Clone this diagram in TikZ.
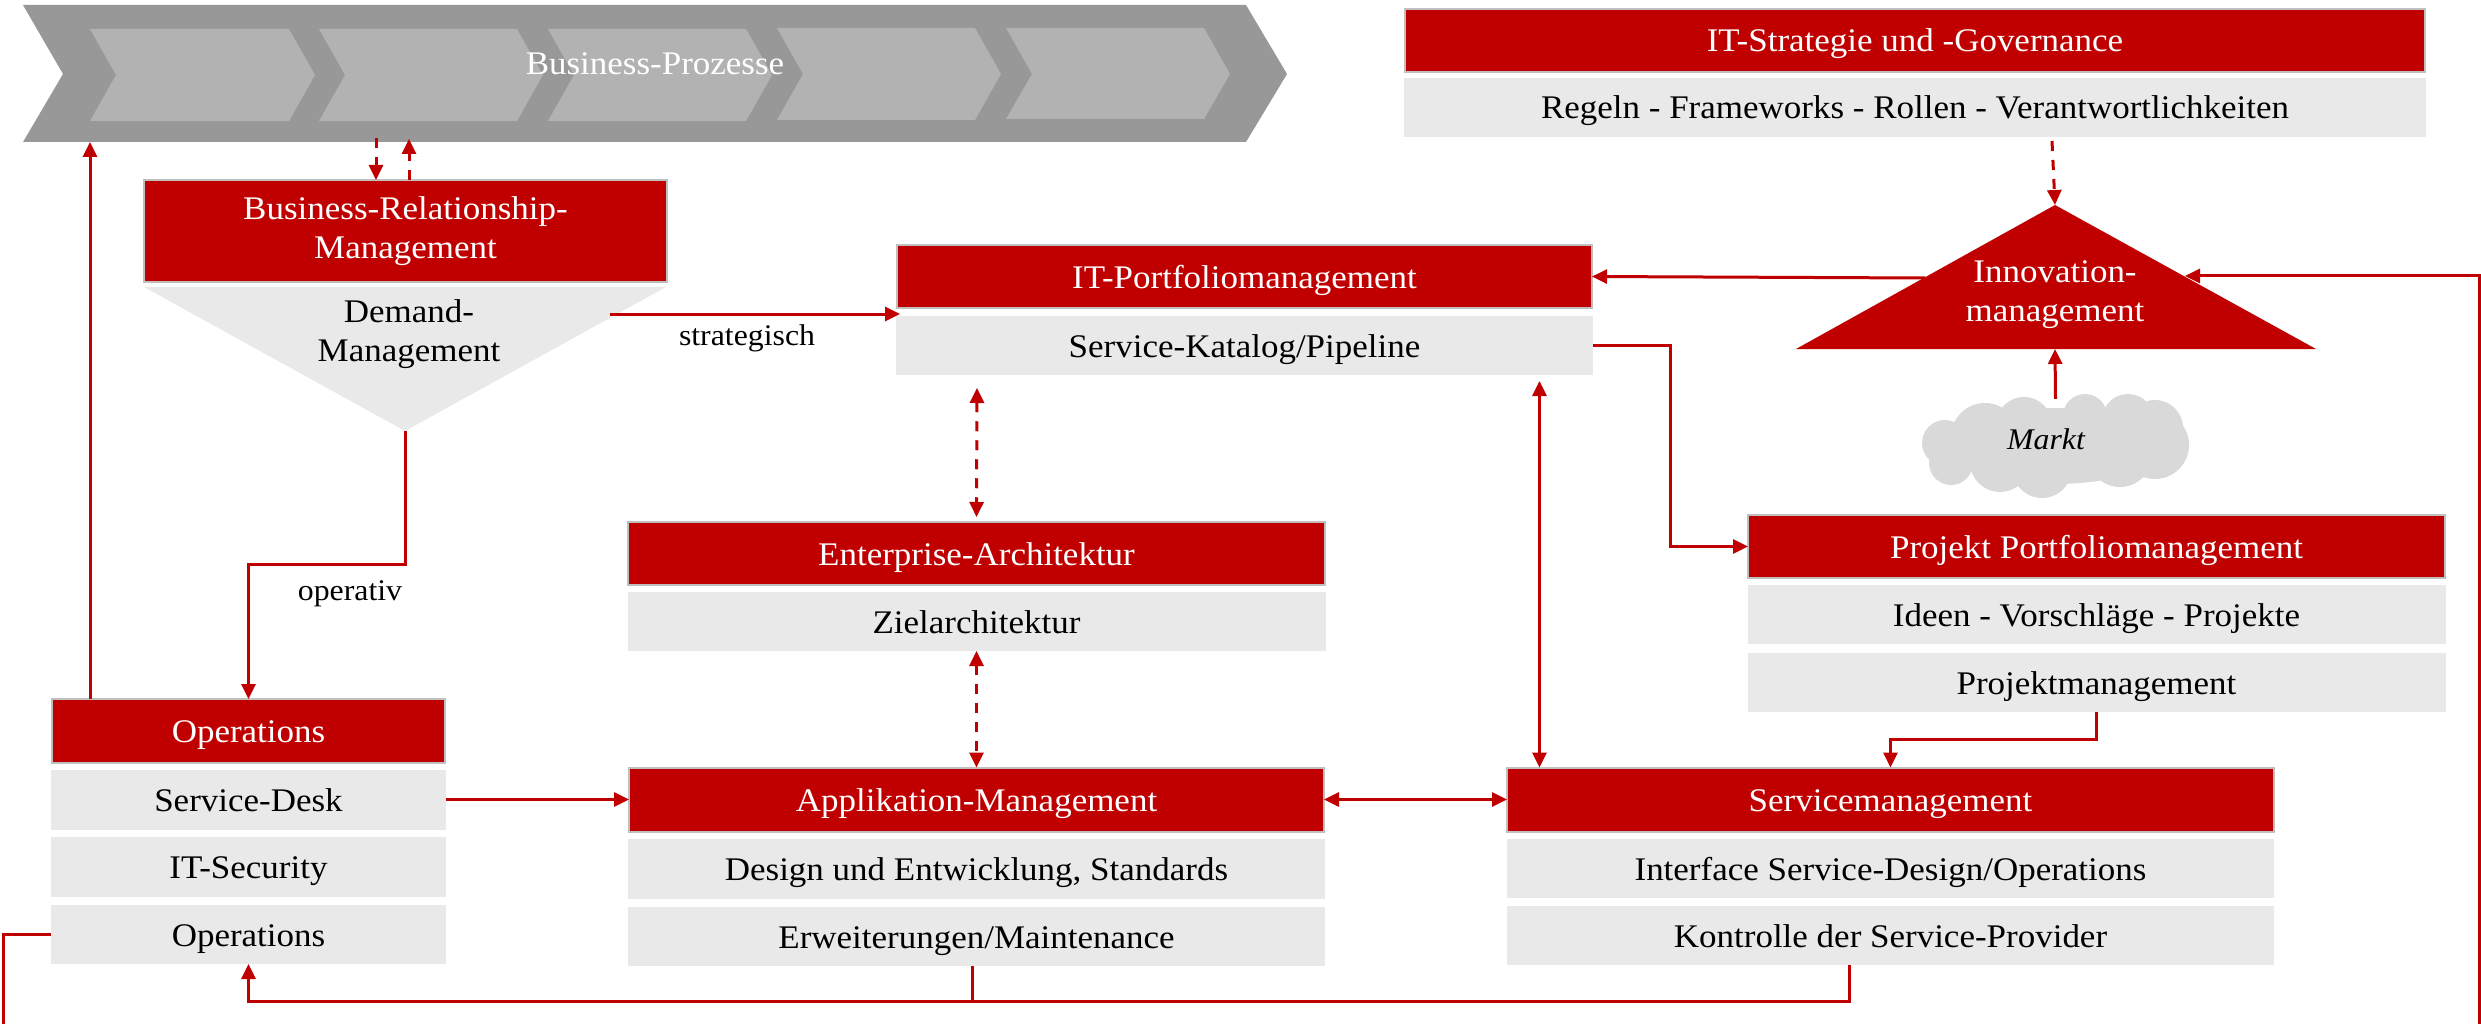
\documentclass[tikz,border=0pt]{standalone}
\usepackage{fontspec}
\setmainfont[FakeStretch=1.06]{Liberation Serif}
\usetikzlibrary{arrows.meta}
\definecolor{kred}{HTML}{C00000}
\definecolor{kline}{HTML}{BFBFBF}
\definecolor{kgray}{HTML}{E9E9E9}
\definecolor{kouter}{HTML}{989898}
\definecolor{kinner}{HTML}{B2B2B2}
\definecolor{kcloud}{HTML}{D9D9D9}
\tikzset{
  mainfont/.style={font=\fontsize{33}{39}\selectfont},
  onel/.style={text height=24pt,text depth=1pt},
  rbase/.style={draw=kline,line width=2pt,fill=kred,text=white,inner sep=0pt,outer sep=0pt,align=center,mainfont},
  redbox/.style={rbase,onel},
  graybox/.style={fill=kgray,text=black,inner sep=0pt,outer sep=0pt,align=center,mainfont,onel},
  lab/.style={inner sep=0pt,font=\fontsize{30}{36}\selectfont,text=black},
  twoline/.style={inner sep=0pt,align=center,mainfont},
  conn/.style={draw=kred,line width=3pt},
  dconn/.style={conn,dash pattern=on 10pt off 9pt},
  >={Triangle[length=15pt,width=14pt]}
}
\begin{document}
\begin{tikzpicture}[x=1pt,y=-1pt]
\useasboundingbox (0,0) rectangle (2481,1024);
\clip (0,0) rectangle (2481,1024);
% value chain
\fill[kouter] (23,5) -- (1246,5) -- (1287,74) -- (1246,142) -- (23,142) -- (63,74) -- cycle;
\fill[kinner] (90,29) -- (289,29) -- (315,75) -- (289,121) -- (90,121) -- (116,75) -- cycle;
\fill[kinner] (319,29) -- (517,29) -- (543,75) -- (517,121) -- (319,121) -- (345,75) -- cycle;
\fill[kinner] (548,29) -- (746,29) -- (772,75) -- (746,121) -- (548,121) -- (574,75) -- cycle;
\fill[kinner] (777,28) -- (975,28) -- (1001,74) -- (975,120) -- (777,120) -- (803,74) -- cycle;
\fill[kinner] (1006,28) -- (1204,28) -- (1230,74) -- (1204,119) -- (1006,119) -- (1032,74) -- cycle;
\node[inner sep=0pt,mainfont,text=white,onel] (bp) at (655,63) {Business-Prozesse};
\coordinate (bpOps) at (90,142);
\coordinate (bpD) at (376,138);
\coordinate (bpU) at (409,139);
% IT strategy
\node[redbox,minimum width=1020pt,minimum height=63pt] (its) at (1915,40.5) {IT-Strategie und -Governance};
\node[graybox,minimum width=1022pt,minimum height=59pt] (itsG) at (1915,107.5) {Regeln - Frameworks - Rollen - Verantwortlichkeiten};
% BRM
\node[rbase,minimum width=523pt,minimum height=102pt] (brm) at (405.5,231) {\rule{0pt}{6pt}Business-Relationship-\\Management};
\fill[kgray] (144,287) coordinate (demL) -- (666,287) coordinate (demR) -- (405,431) coordinate (demT) -- cycle;
\node[twoline] (dem) at (409,334) {Demand-\\Management};
\coordinate (demS) at (609.5,314);
% Portfolio
\node[redbox,minimum width=695pt,minimum height=63pt] (pfR) at (1244.5,276.5) {IT-Portfoliomanagement};
\node[graybox,minimum width=697pt,minimum height=59pt] (pfG) at (1244.5,345.5) {Service-Katalog/Pipeline};
% Innovation
\fill[kred] (2055,205) coordinate (innoT) -- (2316,349) -- (1796,349) -- cycle;
\coordinate (innoB) at (2055,349);
\coordinate (innoL) at (1925,278);
\coordinate (innoR) at (2185,276);
\node[twoline,text=white] (inno) at (2055,295) {Innovation-\\management};
% Markt cloud
\fill[kcloud]
  (2055,446) ellipse [x radius=110pt,y radius=38pt]
  (1945,443) circle [radius=23pt]
  (1951,463) circle [radius=22pt]
  (1985,437) circle [radius=34pt]
  (2024,425) circle [radius=28pt]
  (2085,416) circle [radius=22pt]
  (2128,420) circle [radius=26pt]
  (2155,428) circle [radius=28pt]
  (2155,445) circle [radius=34pt]
  (2120,455) circle [radius=32pt]
  (2042,468) circle [radius=30pt]
  (2000,462) circle [radius=30pt];
\node[inner sep=0pt,minimum width=267pt,minimum height=104pt] (markt) at (2055.5,446) {};
\node[inner sep=0pt,font=\fontsize{30}{36}\selectfont\itshape] (marktT) at (2046,439) {Markt};
% Enterprise
\node[redbox,minimum width=697pt,minimum height=63pt] (entR) at (976.5,553.5) {Enterprise-Architektur};
\node[graybox,minimum width=698pt,minimum height=59pt] (entG) at (976.5,621.5) {Zielarchitektur};
% Projekt
\node[redbox,minimum width=697pt,minimum height=63pt] (prR) at (2096.5,546.5) {Projekt Portfoliomanagement};
\node[graybox,minimum width=698pt,minimum height=59pt] (prA) at (2096.5,614.5) {Ideen - Vorschläge - Projekte};
\node[graybox,minimum width=698pt,minimum height=59pt] (prB) at (2096.5,682.5) {Projektmanagement};
% Operations
\node[redbox,minimum width=393pt,minimum height=64pt] (opsR) at (248.5,731) {Operations};
\node[graybox,minimum width=395pt,minimum height=60pt] (opsA) at (248.5,799.5) {Service-Desk};
\node[graybox,minimum width=395pt,minimum height=60pt] (opsB) at (248.5,867) {IT-Security};
\node[graybox,minimum width=395pt,minimum height=59pt] (opsC) at (248.5,934.5) {Operations};
% Application
\node[redbox,minimum width=695pt,minimum height=64pt] (appR) at (976.5,799.5) {Applikation-Management};
\node[graybox,minimum width=697pt,minimum height=60pt] (appA) at (976.5,869) {Design und Entwicklung, Standards};
\node[graybox,minimum width=697pt,minimum height=59pt] (appB) at (976.5,936.5) {Erweiterungen/Maintenance};
% Service
\node[redbox,minimum width=767pt,minimum height=64pt] (svcR) at (1890.5,799.5) {Servicemanagement};
\node[graybox,minimum width=767pt,minimum height=59pt] (svcA) at (1890.5,868.5) {Interface Service-Design/Operations};
\node[graybox,minimum width=767pt,minimum height=59pt] (svcB) at (1890.5,935.5) {Kontrolle der Service-Provider};
% labels
\node[lab] (strat) at (747,338) {strategisch};
\node[lab] (oper) at (350,594) {operativ};
% helper ends
\coordinate (itsD) at ([xshift=137pt,yshift=-4pt]itsG.south);
\coordinate (marktTop) at ([yshift=-5pt]markt.north);
\coordinate (opsUp) at ([xshift=38pt]opsR.north west);
\coordinate (brmD) at ([xshift=232pt]brm.north west);
\coordinate (brmU) at ([xshift=265pt]brm.north west);
\coordinate (pfIn) at ([xshift=4pt,yshift=2pt]pfG.north west);
\coordinate (pfEnt) at ([xshift=81pt,yshift=-13pt]pfG.south west);
\coordinate (entIn) at ([yshift=5pt]entR.north);
\coordinate (pfSvc) at ([xshift=643.5pt,yshift=-6pt]pfG.south west);
\coordinate (svcPf) at ([xshift=32.5pt]svcR.north west);
\coordinate (pfBend) at (1670,345.5);
\coordinate (edgeR) at (2479.5,1024);
\coordinate (edgeL) at (3,1024);
\coordinate (fbCorner) at (248.5,1001);
\coordinate (fbA) at ([xshift=342.5pt]svcB.south west);
\coordinate (fbB) at ([xshift=344pt]appB.south west);
% connectors
\draw[conn,->] (opsUp) -- (bpOps);
\draw[dconn,->] (bpD) -- (brmD);
\draw[dconn,->] (brmU) -- (bpU);
\draw[conn,->] (demS) -- (pfIn);
\draw[conn,->] (demT) -- ++(0,133) -| (opsR.north);
\draw[dconn,->] (itsD) -- (innoT);
\draw[conn,->] (innoL) -- (pfR.east);
\draw[conn,->] (marktTop) -- (innoB);
\draw[dconn,<->] (pfEnt) -- (entIn);
\draw[dconn,<->] (entG.south) -- (appR.north);
\draw[conn,<->] (pfSvc) -- (svcPf);
\draw[conn,->] (pfG.east) -- (pfBend) |- (prR.west);
\draw[conn,->] (prB.south) -- ++(0,27) -| (svcR.north);
\draw[conn,->] (opsA.east) -- (appR.west);
\draw[conn,<->] (appR.east) -- (svcR.west);
\draw[conn,->] (fbA) |- (fbCorner) -- (opsC.south);
\draw[conn] (fbB) -- (fbB |- fbCorner);
\draw[conn,->] (edgeR) |- (innoR);
\draw[conn] (opsC.west) -| (edgeL);
\end{tikzpicture}
\end{document}
